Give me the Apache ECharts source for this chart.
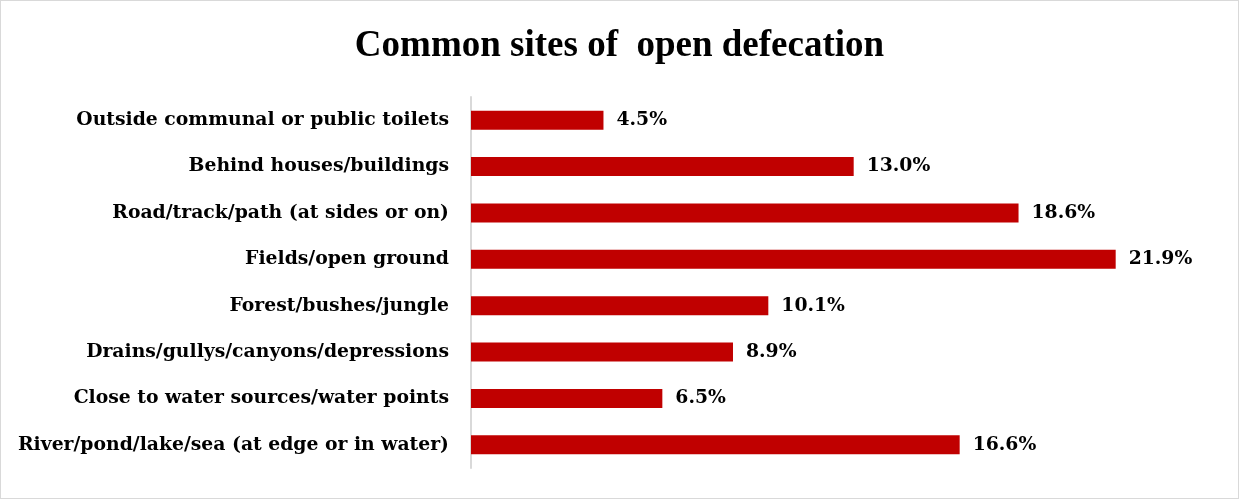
<!DOCTYPE html>
<html>
<head>
<meta charset="utf-8">
<script src="https://cdn.jsdelivr.net/npm/echarts@6/dist/echarts.min.js"></script>
<style>
  html, body { margin: 0; padding: 0; background: #fff; }
  #chart { width: 1239px; height: 499px; box-sizing: border-box; border: 1px solid #d9d9d9; }
</style>
</head>
<body>
<div id="chart"></div>
<script>
// Sites listed top to bottom
const categories = [
  'Outside communal or public toilets',
  'Behind houses/buildings',
  'Road/track/path (at sides or on)',
  'Fields/open ground',
  'Forest/bushes/jungle',
  'Drains/gullys/canyons/depressions',
  'Close to water sources/water points',
  'River/pond/lake/sea (at edge or in water)'
];
// Share of respondents (%)
const shares = [4.5, 13.0, 18.6, 21.9, 10.1, 8.9, 6.5, 16.6];

const labelFont = '"DejaVu Serif", "Liberation Serif", serif';
const titleFont = '"Liberation Serif", "DejaVu Serif", serif';
const chart = echarts.init(document.getElementById('chart'));

chart.setOption({
  animation: false,
  title: {
    text: 'Common sites of  open defecation',
    left: 'center',
    top: 22,
    textStyle: { fontFamily: titleFont, fontSize: 37, fontWeight: 'bold', color: '#000' }
  },
  grid: { left: 470, right: 34, top: 96, bottom: 30, containLabel: false },
  xAxis: {
    type: 'value',
    min: 0,
    max: 24.9,
    show: false
  },
  yAxis: {
    type: 'category',
    data: categories.slice().reverse(),
    axisLine: { show: true, lineStyle: { color: '#d9d9d9', width: 2 } },
    axisTick: { show: false },
    axisLabel: {
      margin: 22,
      fontFamily: labelFont,
      fontSize: 18.8,
      fontWeight: 'bold',
      color: '#000'
    }
  },
  series: [{
    type: 'bar',
    data: shares.slice().reverse(),
    barWidth: 19,
    itemStyle: { color: '#C00000' },
    label: {
      show: true,
      position: 'right',
      distance: 13,
      fontFamily: labelFont,
      fontSize: 18.8,
      fontWeight: 'bold',
      color: '#000',
      formatter: p => p.value.toFixed(1) + '%'
    }
  }]
});
</script>
</body>
</html>
